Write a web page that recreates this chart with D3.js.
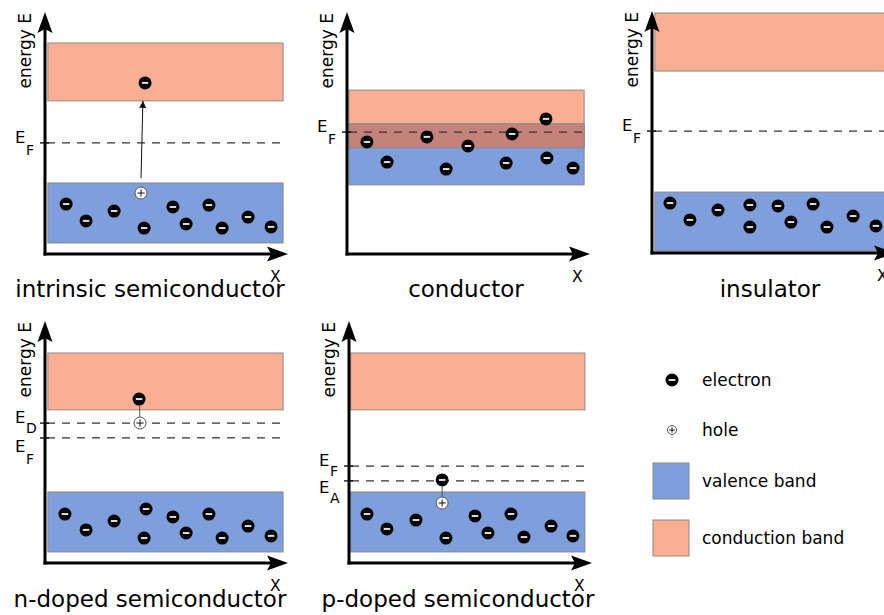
<!DOCTYPE html>
<html><head><meta charset="utf-8">
<script src="https://cdn.jsdelivr.net/npm/d3@7/dist/d3.min.js"></script>
<style>body{margin:0;background:#fff}svg{display:block;font-family:"DejaVu Sans",sans-serif}</style>
</head><body><svg id="c" width="884" height="615"></svg>
<script>
// ---- data (x position 0-100, energy 0-100) ----
const titles = ["intrinsic semiconductor", "conductor", "insulator", "n-doped semiconductor", "p-doped semiconductor"];
const conductionBand = [[63.8, 87.9], [44.2, 68.3], [75.8, 100], [63.8, 87.5], [63.8, 87.5]];
const valenceBand = [[4.6, 29.6], [28.8, 54.2], [0.8, 25.4], [4.6, 29.6], [4.6, 29.6]];
const bandX = [[1.2, 99.2], [0.8, 98.8], [1.2, 99.2], [1.2, 99.2], [0.7, 98.3]];
const levelNames = [["F"], ["F"], ["F"], ["D", "F"], ["F", "A"]];
const levelEnergy = [[46.3], [50.8], [50.8], [58.3, 52.1], [40.4, 34.2]];
const electrons = [
  [[8.8,20.8],[17.1,13.8],[28.8,17.9],[41.3,10.8],[53.3,19.6],[58.8,12.5],[68.3,20.4],[73.8,10.8],[84.6,15.4],[94.2,11.3],[41.7,71.3]],
  [[8.3,46.7],[16.7,38.3],[33.3,48.8],[41.3,35.4],[50.4,45.0],[66.3,37.9],[68.8,50.0],[82.9,56.3],[83.3,40.0],[94.2,35.8]],
  [[7.5,20.8],[15.8,13.8],[27.5,17.9],[40.8,20.0],[40.8,10.8],[52.5,19.6],[57.9,12.9],[67.1,20.4],[72.9,10.8],[83.8,15.4],[93.3,11.3]],
  [[8.3,20.4],[17.1,13.8],[28.8,17.5],[42.1,22.5],[41.3,10.4],[53.3,19.2],[58.8,12.5],[68.3,20.4],[73.8,10.4],[84.6,15.4],[94.2,11.3],[39.2,68.3]],
  [[7.5,20.4],[15.8,14.2],[27.9,17.9],[40.4,10.4],[52.5,19.6],[57.9,12.5],[67.5,20.4],[72.9,10.8],[84.2,15.4],[93.3,11.3],[38.8,34.6]]
];
const holes = [[[40, 25.4]], [], [], [[39.6, 58.3]], [[38.8, 25.0]]];
// transitions: [fromX, fromE, toX, toE, arrow?]
const transitions = [[[40.0, 31.6, 40.8, 63.8, true]], [], [], [[39.4, 65.6, 39.5, 60.6, false]], [[38.8, 31.8, 38.8, 27.5, false]]];
const legendItems = ["electron", "hole", "valence band", "conduction band"];

// ---- layout ----
const origins = [[45, 254], [347, 254], [652, 253], [45, 563], [349, 563]];
const titlePos = [[150, 296.5], [466, 297], [770, 297], [150, 607], [458, 607]];
// label offsets (main E baseline dy, subscript dy) per level
const labelDy = [[[0, 12]], [[0, 12]], [[0, 12]], [[0, 10], [14, 26]], [[0, 10], [12, 22]]];
const colors = {cb: "#fcae92", vb: "#7f9edc", ov: "#c4827b", stroke: "#8a8a8a"};

const svg = d3.select("#c");
const defs = svg.append("defs");
defs.append("marker").attr("id", "ah").attr("viewBox", "0 0 10 10").attr("refX", 10).attr("refY", 5)
  .attr("markerWidth", 7).attr("markerHeight", 7).attr("markerUnits", "userSpaceOnUse").attr("orient", "auto")
  .append("path").attr("d", "M0,0 L10,5 L0,10 z").attr("fill", "#111");

function electron(g, cx, cy, r) {
  g.append("circle").attr("cx", cx).attr("cy", cy).attr("r", r).attr("fill", "#000");
  g.append("rect").attr("x", cx - r * 0.5).attr("y", cy - 1).attr("width", r).attr("height", 2).attr("fill", "#ddd");
}
function hole(g, cx, cy, r) {
  g.append("circle").attr("cx", cx).attr("cy", cy).attr("r", r).attr("fill", "#fff").attr("stroke", "#555").attr("stroke-width", 1);
  g.append("path").attr("d", `M${cx - r * 0.6},${cy}H${cx + r * 0.6}M${cx},${cy - r * 0.6}V${cy + r * 0.6}`)
    .attr("stroke", "#111").attr("stroke-width", 1);
}

titles.forEach((t, i) => {
  const [ox, oy] = origins[i];
  const x = d3.scaleLinear().domain([0, 100]).range([ox, ox + 240]);
  const y = d3.scaleLinear().domain([0, 100]).range([oy, oy - 240]);
  const g = svg.append("g");
  const bx0 = x(bandX[i][0]), bx1 = x(bandX[i][1]);
  const band = (e, fill) => g.append("rect").attr("x", bx0).attr("width", bx1 - bx0)
    .attr("y", y(e[1])).attr("height", y(e[0]) - y(e[1])).attr("fill", fill).attr("stroke", colors.stroke).attr("stroke-width", 1);
  band(conductionBand[i], colors.cb);
  band(valenceBand[i], colors.vb);
  const lo = Math.max(conductionBand[i][0], valenceBand[i][0]), hi = Math.min(conductionBand[i][1], valenceBand[i][1]);
  if (hi > lo) band([lo, hi], colors.ov);

  // levels
  levelEnergy[i].forEach((e, k) => {
    const yy = y(e);
    g.append("line").attr("x1", ox + 2).attr("x2", bx1).attr("y1", yy).attr("y2", yy)
      .attr("stroke", "#333").attr("stroke-width", 1.3).attr("stroke-dasharray", "8,7");
    g.append("line").attr("x1", ox - 5).attr("x2", ox + 4).attr("y1", yy).attr("y2", yy).attr("stroke", "#000").attr("stroke-width", 1.3);
    const [d1, d2] = labelDy[i][k];
    g.append("text").attr("x", ox - 30).attr("y", yy + d1).attr("font-size", 16.5).text("E");
    g.append("text").attr("x", ox - 19).attr("y", yy + d2).attr("font-size", 14).text(levelNames[i][k]);
  });

  // axes
  const top = oy - 242, right = ox + 243;
  g.append("line").attr("x1", ox).attr("x2", ox).attr("y1", oy + 1.5).attr("y2", top + 15).attr("stroke", "#000").attr("stroke-width", 3);
  g.append("line").attr("x1", ox - 1.5).attr("x2", right - 15).attr("y1", oy).attr("y2", oy).attr("stroke", "#000").attr("stroke-width", 3);
  g.append("path").attr("d", `M${ox},${top} L${ox + 7.5},${top + 21} L${ox},${top + 17} L${ox - 7.5},${top + 21} Z`).attr("fill", "#000");
  g.append("path").attr("d", `M${right},${oy} L${right - 21},${oy - 7.5} L${right - 17},${oy} L${right - 21},${oy + 7.5} Z`).attr("fill", "#000");
  g.append("text").attr("transform", `translate(${ox - 14},${top + 1}) rotate(-90)`).attr("text-anchor", "end")
    .attr("font-size", 17).text("energy E");
  g.append("text").attr("x", ox + 225).attr("y", oy + 27.5).attr("font-size", 15.5).text("X");
  g.append("text").attr("x", titlePos[i][0]).attr("y", titlePos[i][1]).attr("text-anchor", "middle").attr("font-size", 23).text(t);

  transitions[i].forEach(tr => {
    const l = g.append("line").attr("x1", x(tr[0])).attr("y1", y(tr[1])).attr("x2", x(tr[2])).attr("y2", y(tr[3]))
      .attr("stroke", tr[4] ? "#111" : "#555").attr("stroke-width", 1);
    if (tr[4]) l.attr("marker-end", "url(#ah)");
  });
  electrons[i].forEach(d => electron(g, x(d[0]), y(d[1]), 6.5));
  holes[i].forEach(d => hole(g, x(d[0]), y(d[1]), 6));
});

// legend
const lg = svg.append("g");
const ly2 = {"electron": 380, "hole": 430, "valence band": 481, "conduction band": 538};
legendItems.forEach((name, k) => {
  const cy = ly2[name];
  if (k === 0) electron(lg, 672, cy, 6.5);
  else if (k === 1) hole(lg, 672, cy, 4.5);
  else lg.append("rect").attr("x", 653).attr("y", cy - 18).attr("width", 36).attr("height", 36)
    .attr("fill", k === 2 ? colors.vb : colors.cb).attr("stroke", colors.stroke).attr("stroke-width", 1);
  lg.append("text").attr("x", 702).attr("y", cy).attr("dy", "0.35em").attr("font-size", 17).text(name);
});
</script></body></html>
